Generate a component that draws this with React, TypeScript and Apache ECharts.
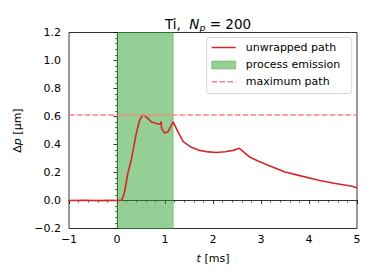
import React, { useEffect, useRef } from "react";
import * as echarts from "echarts";

const timeMs = [
  -1.0, -0.7, -0.4, -0.1, 0.0, 0.1, 0.15, 0.23, 0.31, 0.4, 0.47, 0.54, 0.61, 0.72, 0.82, 0.9, 0.92, 0.93,
  0.99, 1.06, 1.17, 1.27, 1.38, 1.55, 1.72, 1.9, 2.07, 2.25, 2.42, 2.55, 2.76, 2.95, 3.15, 3.5, 3.85,
  4.2, 4.55, 4.9, 5.0,
];
const pathUm = [
  0.0, 0.002, -0.001, 0.001, 0.0, 0.003, 0.05, 0.2, 0.31, 0.478, 0.573, 0.613, 0.597, 0.56, 0.55, 0.545,
  0.565, 0.515, 0.483, 0.49, 0.561, 0.49, 0.42, 0.38, 0.358, 0.347, 0.343, 0.348, 0.358, 0.373, 0.311,
  0.28, 0.252, 0.204, 0.174, 0.145, 0.121, 0.102, 0.09,
];
const emissionStart = 0.0;
const emissionEnd = 1.17;
const maxPath = 0.61;
const legendLabels = ["unwrapped path", "process emission", "maximum path"];

const FONT = "DejaVu Sans";
const RED = "#d62728";
const GREEN = "rgba(44,160,44,0.5)";
const PINK = "#ff8080";

const fmt = (v: number, d: number) => {
  const s = Math.abs(v).toFixed(d);
  return v < 0 ? "\u2212" + s : s;
};

export default function App() {
  const ref = useRef<HTMLDivElement>(null);
  useEffect(() => {
    if (!ref.current) return;
    const chart = echarts.init(ref.current, undefined, { renderer: "svg" });
    const lx = 206.7;
    const ly = 37.5;
    chart.setOption({
      animation: false,
      title: {
        text: "Ti,  {it|N}{sub|p}{r| = 200}",
        left: 203,
        top: 10,
        textAlign: "center",
        textStyle: {
          fontFamily: FONT,
          fontSize: 13.5,
          fontWeight: "normal",
          color: "#000",
          rich: {
            it: { fontFamily: FONT, fontSize: 13.5, fontStyle: "italic", color: "#000" },
            sub: { fontFamily: FONT, fontSize: 9.5, fontStyle: "italic", color: "#000", padding: [7, 0, 0, 0] },
            r: { fontFamily: FONT, fontSize: 13.5, color: "#000" },
          },
        },
      },
      grid: {
        left: 69,
        right: 17,
        top: 32.5,
        bottom: 51.5,
        show: true,
        borderColor: "#000",
        borderWidth: 0.8,
        containLabel: false,
      },
      xAxis: {
        type: "value",
        min: -1,
        max: 5,
        interval: 1,
        name: "{it|t} [ms]",
        nameLocation: "middle",
        nameGap: 24,
        nameTextStyle: {
          fontFamily: FONT,
          fontSize: 11,
          color: "#000",
          rich: { it: { fontFamily: FONT, fontSize: 11, fontStyle: "italic", color: "#000" } },
        },
        axisLine: { show: true, lineStyle: { color: "#000", width: 0.8 } },
        axisTick: { show: true, inside: false, length: 3.5, lineStyle: { color: "#000", width: 0.8 } },
        minorTick: { show: true, splitNumber: 5, length: 2, lineStyle: { color: "#000", width: 0.6 } },
        splitLine: { show: false },
        axisLabel: {
          fontFamily: FONT,
          fontSize: 11,
          color: "#000",
          margin: 5,
          formatter: (v: number) => fmt(v, 0),
        },
      },
      yAxis: {
        type: "value",
        min: -0.2,
        max: 1.2,
        interval: 0.2,
        name: "\u0394{it|p} [\u03bcm]",
        nameLocation: "middle",
        nameRotate: 90,
        nameGap: 41,
        nameTextStyle: {
          fontFamily: FONT,
          fontSize: 11,
          color: "#000",
          rich: { it: { fontFamily: FONT, fontSize: 11, fontStyle: "italic", color: "#000" } },
        },
        axisLine: { show: true, lineStyle: { color: "#000", width: 0.8 } },
        axisTick: { show: true, inside: false, length: 3.5, lineStyle: { color: "#000", width: 0.8 } },
        minorTick: { show: true, splitNumber: 5, length: 2, lineStyle: { color: "#000", width: 0.6 } },
        splitLine: { show: false },
        axisLabel: {
          fontFamily: FONT,
          fontSize: 11,
          color: "#000",
          margin: 8,
          formatter: (v: number) => fmt(v, 1),
        },
      },
      series: [
        {
          name: legendLabels[0],
          type: "line",
          data: timeMs.map((t, i) => [t, pathUm[i]]),
          showSymbol: false,
          symbol: "none",
          lineStyle: { color: RED, width: 1.6 },
          z: 3,
          markArea: {
            silent: true,
            itemStyle: { color: GREEN, borderColor: GREEN, borderWidth: 0.8 },
            data: [[{ xAxis: emissionStart }, { xAxis: emissionEnd }]],
            z: 1,
          },
        },
        {
          name: legendLabels[2],
          type: "line",
          data: [],
          z: 4,
          markLine: {
            silent: true,
            symbol: "none",
            label: { show: false },
            lineStyle: { color: PINK, type: [5.5, 2.4], width: 1.5 },
            data: [{ yAxis: maxPath }],
          },
        },
      ],
      graphic: [
        {
          type: "rect",
          z: 100,
          shape: { x: lx, y: ly, width: 145, height: 56, r: 2.5 },
          style: { fill: "rgba(255,255,255,0.8)", stroke: "#cccccc", lineWidth: 0.8 },
        },
        {
          type: "line",
          z: 101,
          shape: { x1: lx + 5, y1: ly + 10, x2: lx + 29, y2: ly + 10 },
          style: { stroke: RED, lineWidth: 1.5 },
        },
        {
          type: "rect",
          z: 101,
          shape: { x: lx + 5, y: ly + 23.5, width: 24, height: 8 },
          style: { fill: GREEN, stroke: GREEN, lineWidth: 0.8 },
        },
        {
          type: "line",
          z: 101,
          shape: { x1: lx + 5, y1: ly + 44.3, x2: lx + 29, y2: ly + 44.3 },
          style: { stroke: PINK, lineWidth: 1.5, lineDash: [5.5, 2.4] },
        },
        ...legendLabels.map((txt, i) => ({
          type: "text",
          z: 101,
          style: {
            text: txt,
            x: lx + 39,
            y: ly + 10 + i * 17.2,
            fontFamily: FONT,
            fontSize: 11,
            fill: "#000",
            verticalAlign: "middle",
            align: "left",
          },
        })),
      ],
    });
    return () => chart.dispose();
  }, []);
  return <div ref={ref} style={{ width: 374, height: 280, margin: -8 }} />;
}
